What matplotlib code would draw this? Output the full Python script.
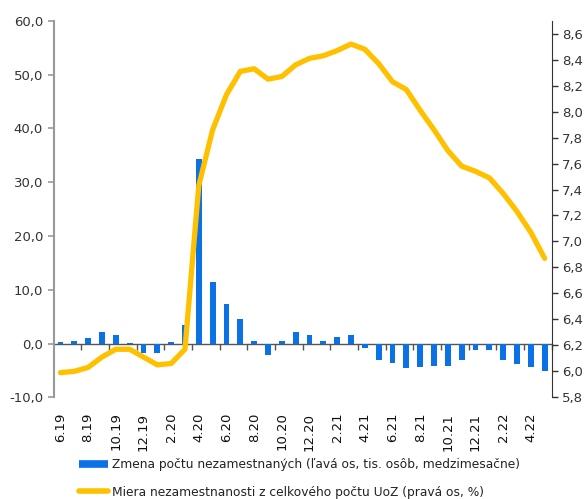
import matplotlib
matplotlib.use("Agg")
import matplotlib.pyplot as plt
from matplotlib.lines import Line2D
import numpy as np

months = ["6.19", "7.19", "8.19", "9.19", "10.19", "11.19", "12.19", "1.20",
          "2.20", "3.20", "4.20", "5.20", "6.20", "7.20", "8.20", "9.20",
          "10.20", "11.20", "12.20", "1.21", "2.21", "3.21", "4.21", "5.21",
          "6.21", "7.21", "8.21", "9.21", "10.21", "11.21", "12.21", "1.22",
          "2.22", "3.22", "4.22", "5.22"]

# zmena poctu nezamestnanych (tis., medzimesacne)
zmena = [0.2, 0.5, 1.1, 2.2, 1.6, 0.05, -1.7, -1.7,
         0.2, 3.5, 34.3, 11.5, 7.4, 4.5, 0.5, -2.2,
         0.4, 2.2, 1.6, 0.5, 1.3, 1.6, -0.9, -3.1,
         -3.7, -4.6, -4.4, -4.2, -4.2, -3.1, -1.3, -1.3,
         -3.0, -3.9, -4.4, -5.2]

# miera nezamestnanosti UoZ (%)
miera = [5.99, 6.00, 6.03, 6.11, 6.17, 6.17, 6.11, 6.05,
         6.06, 6.17, 7.43, 7.86, 8.13, 8.31, 8.33, 8.25,
         8.27, 8.36, 8.41, 8.43, 8.47, 8.52, 8.48, 8.37,
         8.23, 8.17, 8.01, 7.86, 7.70, 7.58, 7.54, 7.49,
         7.37, 7.23, 7.07, 6.87]

label_bar = "Zmena počtu nezamestnaných (ľavá os, tis. osôb, medzimesačne)"
label_line = "Miera nezamestnanosti z celkového počtu UoZ (pravá os, %)"

blue = "#0B72E6"
gold = "#FFC000"
txt = "#333333"

plt.rcParams['font.family'] = ['DejaVu Sans']
fig = plt.figure(figsize=(5.86, 4.99), dpi=100)
ax = fig.add_axes([0.0913, 0.2038, 0.85, 0.7547])

x = np.arange(len(months))
ax.bar(x, zmena, width=0.42, color=blue, zorder=2)
ax.set_xlim(-0.5, len(months) - 0.5)
ax.set_ylim(-10, 60)
ax.set_yticks(np.arange(-10, 61, 10))
ax.set_yticklabels([f"{v:.1f}".replace(".", ",") for v in np.arange(-10, 61, 10)])
ax.tick_params(axis='y', colors="#999999", labelcolor=txt, labelsize=9.5, length=4, width=1.2)

# labels at the bottom, tick marks on the zero line
ax.set_xticks(x[::2])
ax.set_xticklabels(months[::2], rotation=90, color="#111111", fontsize=9.5)
ax.tick_params(axis='x', length=0, pad=11)
for s in ['top', 'right', 'bottom']:
    ax.spines[s].set_visible(False)
ax.spines['left'].set_color("#999999")
ax.spines['left'].set_linewidth(1.5)

zero = ax.secondary_xaxis(1 / 7)
zero.set_xticks(np.arange(1.5, len(months), 2))
zero.set_xticklabels([])
zero.tick_params(axis='x', length=4, width=1, colors="#555555")
zero.spines['bottom'].set_color("#555555")
zero.spines['bottom'].set_linewidth(1)

ax2 = ax.twinx()
ax2.plot(x, miera, color=gold, lw=3.8, solid_joinstyle='round', solid_capstyle='round', zorder=3)
ax2.set_ylim(5.8, 8.7)
rt = np.round(np.arange(5.8, 8.61, 0.2), 1)
ax2.set_yticks(rt)
ax2.set_yticklabels([f"{v:.1f}".replace(".", ",") for v in rt])
ax2.tick_params(axis='y', colors="#333333", labelcolor=txt, labelsize=9.5, length=4, width=1)
for s in ['top', 'left', 'bottom']:
    ax2.spines[s].set_visible(False)
ax2.spines['right'].set_color("#333333")

handles = [Line2D([], [], color=blue, lw=5.5, solid_capstyle='butt'),
           Line2D([], [], color=gold, lw=4, solid_capstyle='round')]
fig.legend(handles, [label_bar, label_line], loc='upper left',
           bbox_to_anchor=(0.135, 0.082), frameon=False, fontsize=8.8,
           handlelength=2.4, handletextpad=0.3, labelspacing=1.2,
           borderaxespad=0, borderpad=0, labelcolor="#222222")

fig.savefig("out.png", dpi=100)
